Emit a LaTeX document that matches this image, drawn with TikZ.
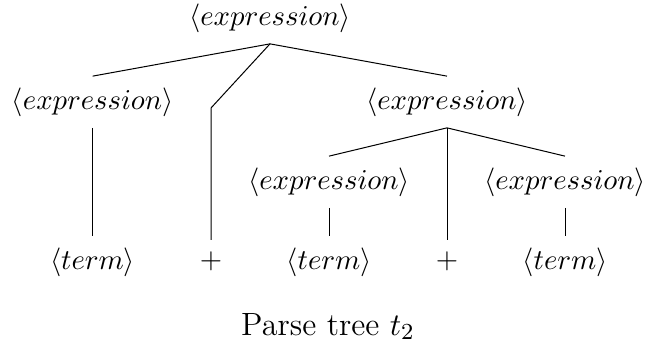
\documentclass[tikz,border=0pt]{standalone}
\usetikzlibrary{calc}
\begin{document}
\begin{tikzpicture}[x=0.348pt,y=-0.348pt,
  sym/.style={inner sep=0pt,outer sep=4pt},
  edge/.style={draw=black,line width=0.35pt}]
\useasboundingbox (0,0) rectangle (646,343);
\node[sym] (root) at (270,18) {$\langle expression\rangle$};
\node[sym] (e1) at (92.6,102) {$\langle expression\rangle$};
\node[sym] (e2) at (447,102) {$\langle expression\rangle$};
\node[sym] (e21) at (329,182) {$\langle expression\rangle$};
\node[sym] (e22) at (565,182) {$\langle expression\rangle$};
\node[sym] (t1) at (92.6,262) {$\langle term\rangle$};
\node[sym] (p1) at (211,261) {$+$};
\node[sym] (t21) at (329,262) {$\langle term\rangle$};
\node[sym] (p2) at (447,261) {$+$};
\node[sym] (t22) at (565,262) {$\langle term\rangle$};
\node[inner sep=0pt,anchor=base,font=\fontsize{11.2}{13}\selectfont] (cap) at (328,335) {Parse tree $t_2$};
\coordinate (k1) at (211,108);
\draw[edge] (root.south) -- (e1.north);
\draw[edge] (root.south) -- (k1) -- (p1.north);
\draw[edge] (root.south) -- (e2.north);
\draw[edge] (e1.south) -- (t1.north);
\draw[edge] (e2.south) -- (e21.north);
\draw[edge] (e2.south) -- (p2.north);
\draw[edge] (e2.south) -- (e22.north);
\draw[edge] (e21.south) -- (t21.north);
\draw[edge] (e22.south) -- (t22.north);
\end{tikzpicture}
\end{document}
